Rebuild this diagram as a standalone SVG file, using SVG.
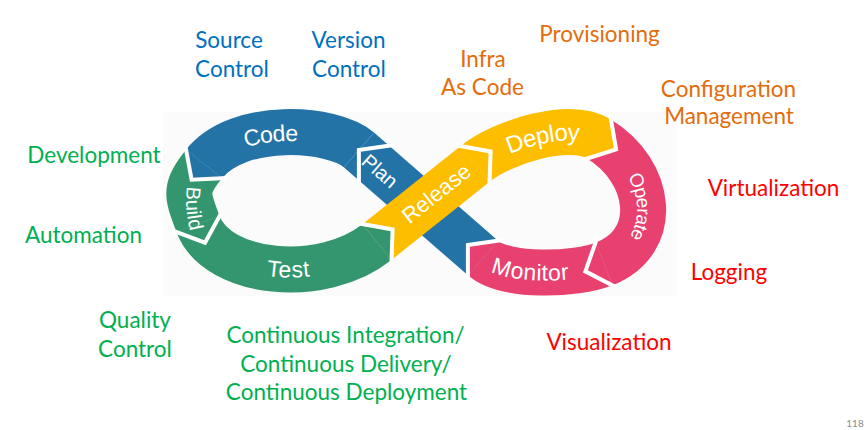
<svg xmlns="http://www.w3.org/2000/svg" width="864" height="430" viewBox="0 0 864 430">
<style>
.seg{fill:none;stroke-width:46;stroke-linecap:butt}
.gap{fill:none;stroke:#fff;stroke-width:4;stroke-linejoin:miter;stroke-linecap:butt}
.lbl{font-family:"Liberation Sans",Arial,sans-serif;font-size:22px;fill:#fff;text-anchor:middle}
.note{font-family:Lato,"Liberation Sans",sans-serif;font-size:22.5px;text-anchor:middle}
.blue{fill:#0070C0}.orange{fill:#E46C0A}.green{fill:#00B050}.red{fill:#FF0000}
.cb{stroke:#2473A6}.cg{stroke:#33966E}.cy{stroke:#FDBE00}.cp{stroke:#E8416F}
</style>
<defs>
<path id="lp-code" d="M204,164 C238.2,120.9 332.5,126.9 358.9,149.9"/>
<path id="lp-build" d="M197,166 C186,186 186,221 201,251"/>
<path id="lp-monitor" d="M483,258 C505.6,277.7 576.1,275.1 604,264"/>
</defs>
<rect x="163" y="112" width="514" height="184" fill="#fbfbfb"/>

<g id="plan">
<path class="seg cb" d="M483,258 L358.9,149.9"/>
<text class="lbl" transform="translate(380,171) rotate(41)" dy="7" style="font-size:20px">Plan</text>
</g>

<g id="monitor">
<path class="seg cp" d="M604,264 C576.1,275.1 505.6,277.7 483,258"/>
<polygon fill="#E8416F" points="498.1,240.7 467.9,244.9 467.9,275.3"/>
<polyline class="gap" points="502.6,240.1 467.9,244.9 467.9,279.9"/>
<text class="lbl" dy="8" style="font-size:23px"><textPath href="#lp-monitor" startOffset="40%">Monitor</textPath></text>
</g>

<g id="operate">
<path id="p-operate" class="seg cp" d="M599,139 C651.9,171.4 661.6,241.1 604,264"/>
<polygon fill="#E8416F" points="595.5,242.6 585.4,271.4 612.5,285.4"/>
<polyline class="gap" points="597.0,238.3 585.4,271.4 616.6,287.5"/>
<text class="lbl" dy="6" style="font-size:19px"><textPath href="#p-operate" startOffset="53%">Operate</textPath></text>
</g>

<g id="deploy">
<path id="p-deploy" class="seg cy" d="M475,164 C502.3,142.1 569.1,120.7 599,139"/>
<polygon fill="#FDBE00" points="587.0,158.6 616.1,149.4 611.0,119.4"/>
<polyline class="gap" points="582.6,160.0 616.1,149.4 610.2,114.9"/>
<text class="lbl" dy="8.5" style="font-size:24px"><textPath href="#p-deploy" startOffset="56%">Deploy</textPath></text>
</g>

<g id="release">
<path class="seg cy" d="M377,242 L475,164"/>
<polygon fill="#FDBE00" points="489.4,181.9 490.6,151.5 460.6,146.1"/>
<polyline class="gap" points="489.4,186.5 490.6,151.5 456.1,145.3"/>
<text class="lbl" transform="translate(436,193) rotate(-38.5)" dy="8">Release</text>
</g>

<g id="test">
<path id="p-test" class="seg cg" d="M198,224 C217.2,275.5 322.4,285.75 377,242"/>
<polygon fill="#33966E" points="391.4,259.9 392.6,229.5 362.6,224.1"/>
<polyline class="gap" points="391.4,264.5 392.6,229.5 358.1,223.3"/>
<text class="lbl" dy="8" style="font-size:23px"><textPath href="#p-test" startOffset="53%">Test</textPath></text>
</g>

<g id="build">
<path class="seg cg" d="M204,164 C184.1,189.1 186.8,194.0 198,224"/>
<polygon fill="#33966E" points="176.4,232.0 205.0,242.7 219.6,216.0"/>
<polyline class="gap" points="172.1,230.4 205.0,242.7 221.8,212.0"/>
<text class="lbl" dy="3" style="font-size:20px"><textPath href="#lp-build" startOffset="50%">Build</textPath></text>
</g>

<g id="code">
<path class="seg cb" d="M358.9,149.9 C332.5,126.9 238.2,120.9 204,164"/>
<polygon fill="#2473A6" points="222.0,178.3 191.6,179.7 186.0,149.7"/>
<polyline class="gap" points="226.6,178.1 191.6,179.7 185.2,145.2"/>
<polyline class="gap" points="393.6,145.1 358.9,149.9 358.9,184.9"/>
<text class="lbl" dy="9" style="font-size:23px"><textPath href="#lp-code" startOffset="45%">Code</textPath></text>
</g>

<g id="annotations">
<text class="note blue" x="229" y="48">Source</text>
<text class="note blue" x="232" y="77">Control</text>
<text class="note blue" x="348.5" y="48">Version</text>
<text class="note blue" x="349" y="77">Control</text>
<text class="note orange" x="599.5" y="42">Provisioning</text>
<text class="note orange" x="483" y="67">Infra</text>
<text class="note orange" x="482.5" y="95">As Code</text>
<text class="note orange" x="728.5" y="97">Configuration</text>
<text class="note orange" x="729" y="124">Management</text>
<text class="note green" x="94" y="163">Development</text>
<text class="note green" x="83.5" y="243">Automation</text>
<text class="note green" x="135" y="328">Quality</text>
<text class="note green" x="135" y="357">Control</text>
<text class="note green" x="345.5" y="343">Continuous Integration/</text>
<text class="note green" x="346" y="372">Continuous Delivery/</text>
<text class="note green" x="346.5" y="400">Continuous Deployment</text>
<text class="note red" x="773.5" y="196">Virtualization</text>
<text class="note red" x="729" y="280">Logging</text>
<text class="note red" x="609" y="350">Visualization</text>
<text x="855" y="427" font-family="Lato,'Liberation Sans',sans-serif" font-size="10" fill="#8c8c8c" text-anchor="middle">118</text>
</g>
</svg>
